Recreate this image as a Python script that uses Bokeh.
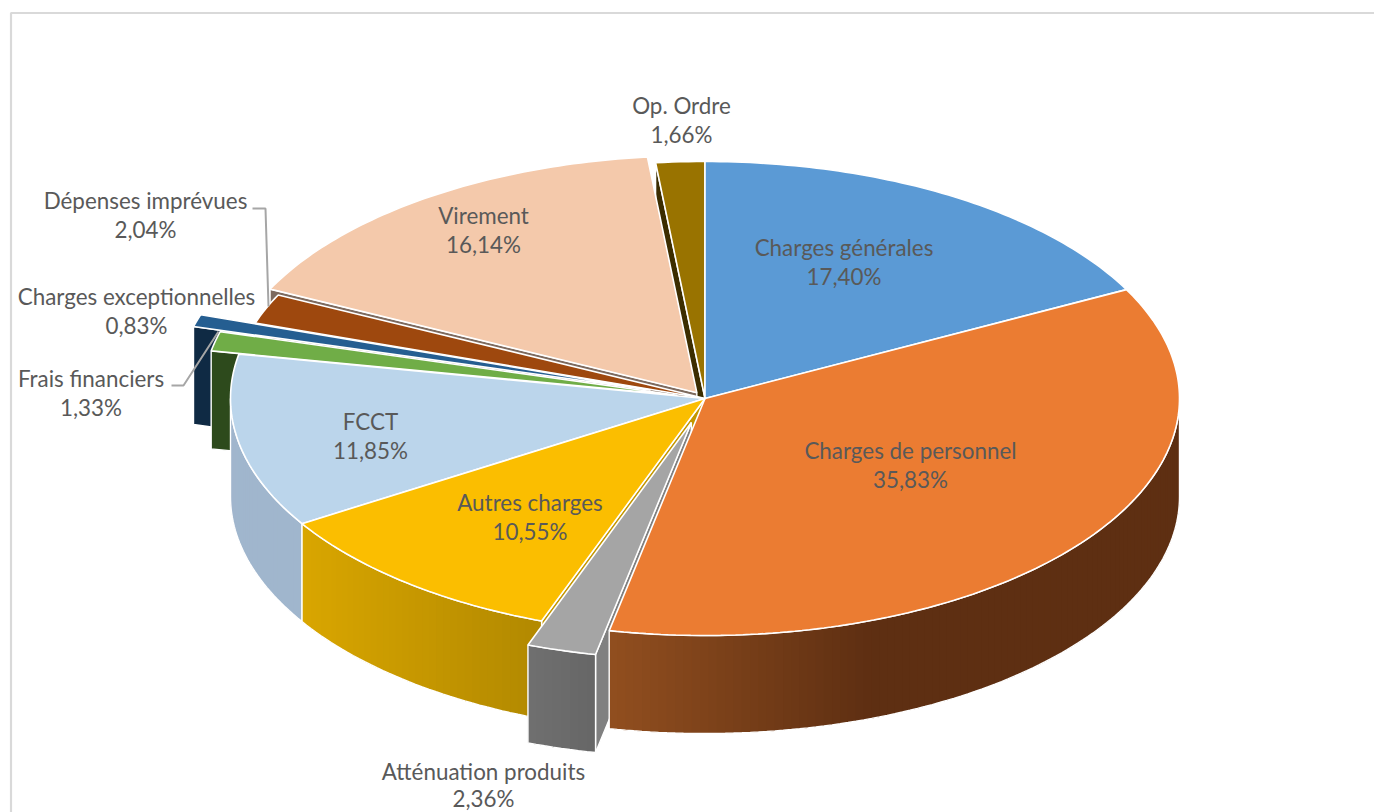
import math
from bokeh.plotting import figure
from bokeh.embed import file_html
from bokeh.resources import INLINE
from bokeh.models import Range1d
from bokeh.core.properties import value

# ---- data ----
categories = ["Charges générales", "Charges de personnel", "Atténuation produits",
              "Autres charges", "FCCT", "Frais financiers", "Charges exceptionnelles",
              "Dépenses imprévues", "Virement", "Op. Ordre"]
values = [17.40, 35.83, 2.36, 10.55, 11.85, 1.33, 0.83, 2.04, 16.14, 1.66]

# ---- style ----
explode = [0, 0, 0.105, 0, 0, 0.06, 0.12, 0, 0.03, 0]
top_colors = ["#5b9ad5", "#eb7c32", "#a5a5a5", "#fbbe00", "#bbd5eb", "#70ad47",
              "#255e91", "#9e480e", "#f4c9ab", "#997300"]
label_pos = [(843.5, 247, 276), (910, 450, 479), (483, 771, 798), (529.5, 502, 531),
             (370, 421, 450), (90.5, 378, 407), (136, 296, 325), (145, 200, 229),
             (483, 215, 244), (681, 105, 134)]
CX, CY, RX, RY, DEPTH = 704.5, 398, 474.5, 237, 98
TEXT = "#595959"
FONT = "Lato"
FS = "22.4px"

p = figure(width=1374, height=812, x_range=Range1d(0, 1374), y_range=Range1d(812, 0),
           x_axis_type=None, y_axis_type=None, toolbar_location=None,
           output_backend="svg", min_border=0, background_fill_color="white")
p.outline_line_color = None
p.grid.visible = False

# cumulative fractions from 12 o'clock, clockwise
total = sum(values)
edges = [0]
for v in values:
    edges.append(edges[-1] + v)
edges = [e / total for e in edges]


def offset(i):
    m = (edges[i] + edges[i + 1]) / 2 * 2 * math.pi
    return (RX * math.sin(m) * explode[i], -RY * math.cos(m) * explode[i])


def rim(i, f):
    dx, dy = offset(i)
    a = f * 2 * math.pi
    return (CX + RX * math.sin(a) + dx, CY - RY * math.cos(a) + dy)


def apex(i):
    dx, dy = offset(i)
    return (CX + dx, CY + dy)


def arc(i, f0, f1, n=None):
    n = n or max(2, int((f1 - f0) * 400))
    return [rim(i, f0 + (f1 - f0) * k / n) for k in range(n + 1)]


def mix(c0, c1, t):
    t = max(0, min(1, t))
    a = [int(c0[j:j + 2], 16) for j in (1, 3, 5)]
    b = [int(c1[j:j + 2], 16) for j in (1, 3, 5)]
    return "#%02x%02x%02x" % tuple(round(a[j] + (b[j] - a[j]) * t) for j in range(3))


def draw_top(i):
    pts = [apex(i)] + arc(i, edges[i], edges[i + 1])
    p.patch([q[0] for q in pts], [q[1] for q in pts], fill_color=top_colors[i],
            line_color="white", line_width=1.6)


def radial_wall(i, f, color, extent=1.0):
    r = rim(i, f)
    a = apex(i)
    e = (r[0] + (a[0] - r[0]) * extent, r[1] + (a[1] - r[1]) * extent)
    xs = [r[0], e[0], e[0], r[0]]
    ys = [r[1], e[1], e[1] + DEPTH, r[1] + DEPTH]
    p.patch(xs, ys, fill_color=color, line_color="white", line_width=1.4)


def outer_wall(i, f0, f1, c0, c1, x0, x1):
    pts = arc(i, f0, f1, max(4, int((f1 - f0) * 360)))
    for k in range(len(pts) - 1):
        seg = pts[k:k + 4]
        col = mix(c0, c1, ((pts[k][0] + pts[k + 1][0]) / 2 - x0) / (x1 - x0))
        p.patch([q[0] for q in seg] + [q[0] for q in reversed(seg)],
                [q[1] for q in seg] + [q[1] + DEPTH for q in reversed(seg)],
                fill_color=col, line_color=None)
    xs = [q[0] for q in pts] + [pts[-1][0]] + [q[0] for q in reversed(pts)] + [pts[0][0], pts[0][0]]
    ys = [q[1] for q in pts] + [pts[-1][1] + DEPTH] + [q[1] + DEPTH for q in reversed(pts)] + [pts[0][1] + DEPTH, pts[0][1]]
    p.line(xs, ys, line_color="white", line_width=1.4)


# frame of the picture
p.line([10.5, 10.5, 1374], [812, 12.5, 12.5], line_color="#d9d9d9", line_width=2.2)

# back slices
radial_wall(9, edges[9], "#3c2d00")
radial_wall(8, edges[8], "#7d6a5e")
draw_top(8)
draw_top(9)
draw_top(7)
radial_wall(6, edges[6], "#0f2a44", 0.09)
draw_top(6)
radial_wall(5, edges[5], "#2d4a1c", 0.09)
draw_top(5)

# front slices
radial_wall(3, edges[3], "#c49700")
radial_wall(2, edges[2], "#808080")
draw_top(0)
outer_wall(1, 0.25, edges[2], "#5e2f12", "#914e1f", 870, 610)
draw_top(1)
outer_wall(4, edges[4], 0.75, "#a0b6cd", "#a0b6cd", 230, 300)
draw_top(4)
outer_wall(3, edges[3], edges[4], "#b48a00", "#d9a600", 527, 301)
draw_top(3)
outer_wall(2, edges[2], edges[3], "#666666", "#707070", 596, 528)
draw_top(2)

# leader lines
p.line([252, 265, 268], [208, 208, 306], line_color="#a6a6a6", line_width=2)
p.line([171, 183, 218], [385, 385, 331], line_color="#a6a6a6", line_width=2)

# labels
for name, v, (x, y0, y1) in zip(categories, values, label_pos):
    pct = f"{v:.2f}".replace(".", ",") + "%"
    p.text([x, x], [y0, y1], text=[name, pct], text_font=value(FONT), text_font_size=FS,
           text_color=TEXT, text_align="center", text_baseline="middle")

open("out.html", "w").write(file_html(p, INLINE))
